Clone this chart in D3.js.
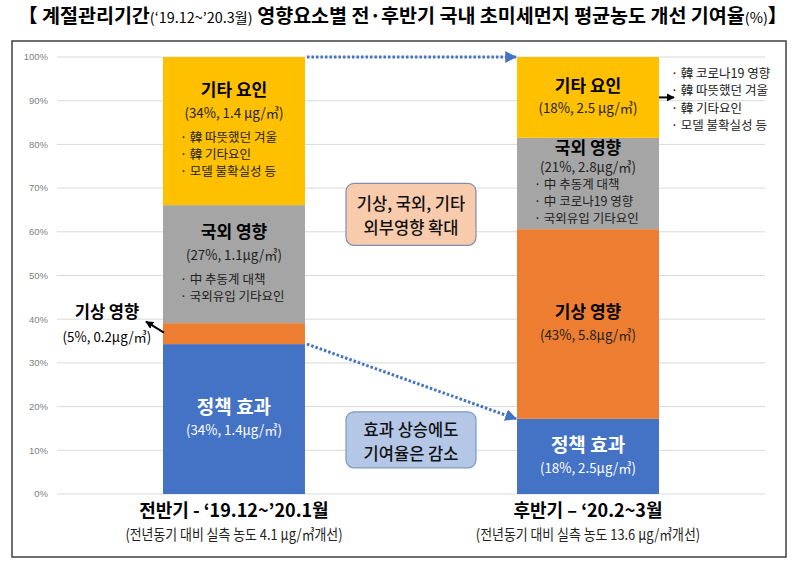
<!DOCTYPE html>
<html>
<head>
<meta charset="utf-8">
<script src="https://cdn.jsdelivr.net/npm/d3@7"></script>
<style>
  body { margin: 0; background: #fff; }
  svg { display: block; }
</style>
</head>
<body>
<div id="chart"></div>
<script>
// ---- data ----
var periods = ["전반기", "후반기"];
var factors = ["정책 효과", "기상 영향", "국외 영향", "기타 요인"];
var colors = ["#4472c4", "#ed7d31", "#a5a5a5", "#ffc000"];
var share1 = [34.3, 4.8, 27.0, 33.9];   // 전반기, % stacked
var share2 = [17.2, 43.4, 20.9, 18.5];  // 후반기
var valueText1 = ["(34%, 1.4μg/㎥)", "(5%, 0.2μg/㎥)", "(27%, 1.1μg/㎥)", "(34%, 1.4 μg/㎥)"];
var valueText2 = ["(18%, 2.5μg/㎥)", "(43%, 5.8μg/㎥)", "(21%, 2.8μg/㎥)", "(18%, 2.5 μg/㎥)"];
var notes1 = [[], [], ["中 추동계 대책", "국외유입 기타요인"], ["韓 따뜻했던 겨울", "韓 기타요인", "모델 불확실성 등"]];
var notes2 = [[], [], ["中 추동계 대책", "中 코로나19 영향", "국외유입 기타요인"], ["韓 코로나19 영향", "韓 따뜻했던 겨울", "韓 기타요인", "모델 불확실성 등"]];
var periodTitles = ["전반기 - ‘19.12~’20.1월", "후반기 – ‘20.2~3월"];
var periodNotes = ["(전년동기 대비 실측 농도 4.1 μg/㎥개선)", "(전년동기 대비 실측 농도 13.6 μg/㎥개선)"];
var yTicks = [0, 10, 20, 30, 40, 50, 60, 70, 80, 90, 100];
var callouts = [["기상, 국외, 기타", "외부영향 확대"], ["효과 상승에도", "기여율은 감소"]];
var titleParts = [
  {t: "【 계절관리기간", small: false},
  {t: "(‘19.12~’20.3월)", small: true},
  {t: " 영향요소별 전·후반기 국내 초미세먼지 평균농도 개선 기여율", small: false},
  {t: "(%)", small: true},
  {t: "】", small: false}
];

var KR = "'Noto Sans CJK KR', 'Noto Sans', sans-serif";
var NARROW = "'Liberation Sans Narrow', 'Noto Sans CJK KR', sans-serif";

var W = 800, H = 564;
var svg = d3.select("#chart").append("svg")
    .attr("width", W)
    .attr("height", H)
    .style("background", "#fff");

// squeeze a text element horizontally around its own anchor point
function squeeze(sel, k) {
  sel.each(function() {
    var t = d3.select(this), x = +t.attr("x"), y = +t.attr("y");
    t.attr("transform", "translate(" + x + "," + y + ") scale(" + k + ",1) translate(" + (-x) + "," + (-y) + ")");
  });
}

// title
var title = svg.append("text")
    .attr("x", 0).attr("y", 23)
    .style("font-family", KR)
    .style("font-weight", 700)
    .attr("fill", "#000");
titleParts.forEach(function(p) {
  title.append("tspan")
    .text(p.t)
    .style("font-size", p.small ? "14px" : "19px")
    .style("font-weight", p.small ? 400 : 700)
    .style("font-family", p.small ? NARROW : KR);
});
var tw = title.node().getComputedTextLength();
title.attr("transform", "translate(18,0) scale(" + (770 / tw) + ",1)");

// frame
svg.append("rect")
    .attr("x", 12).attr("y", 41)
    .attr("width", 774).attr("height", 516)
    .attr("fill", "none")
    .attr("stroke", "#404040")
    .attr("stroke-width", 1.5);

// scales
var y = d3.scaleLinear().domain([0, 100]).range([494, 57]);
var x = d3.scaleBand().domain(periods).range([163, 659]).paddingInner(0.599).paddingOuter(0);
var bw = x.bandwidth();

// grid + y labels
svg.append("g").selectAll("line")
  .data(yTicks).enter().append("line")
    .attr("x1", 57).attr("x2", 765)
    .attr("y1", function(d) { return y(d); })
    .attr("y2", function(d) { return y(d); })
    .attr("stroke", "#d9d9d9")
    .attr("stroke-width", 1);
svg.append("g").selectAll("text")
  .data(yTicks).enter().append("text")
    .attr("x", 48)
    .attr("y", function(d) { return y(d); })
    .attr("dy", "0.35em")
    .attr("text-anchor", "end")
    .style("font-family", "'Liberation Sans', sans-serif")
    .style("font-size", "9.5px")
    .attr("fill", "#808080")
    .text(function(d) { return d + "%"; });

// stacked bars
var rows = periods.map(function(p, i) {
  var r = {period: p};
  var s = i === 0 ? share1 : share2;
  factors.forEach(function(f, j) { r[f] = s[j]; });
  return r;
});
var series = d3.stack().keys(factors)(rows);

svg.append("g").selectAll("g")
  .data(series).enter().append("g")
    .attr("fill", function(d, j) { return colors[j]; })
  .selectAll("rect")
  .data(function(d) { return d; }).enter().append("rect")
    .attr("x", function(d) { return x(d.data.period); })
    .attr("y", function(d) { return y(d[1]); })
    .attr("width", bw)
    .attr("height", function(d) { return y(d[0]) - y(d[1]); });

// arrow markers
var defs = svg.append("defs");
defs.append("marker").attr("id", "blueHead")
    .attr("viewBox", "0 0 10 10").attr("refX", 9).attr("refY", 5)
    .attr("markerWidth", 4).attr("markerHeight", 4).attr("orient", "auto")
    .attr("markerUnits", "strokeWidth")
  .append("path").attr("d", "M0,0 L10,5 L0,10 z").attr("fill", "#4472c4");
defs.append("marker").attr("id", "blackHead")
    .attr("viewBox", "0 0 10 10").attr("refX", 9).attr("refY", 5)
    .attr("markerWidth", 4).attr("markerHeight", 4).attr("orient", "auto")
    .attr("markerUnits", "strokeWidth")
  .append("path").attr("d", "M0,0 L10,5 L0,10 z").attr("fill", "#000");

// segment labels
var labels = svg.append("g");
series.forEach(function(ser, j) {
  ser.forEach(function(d, i) {
    var bx = x(d.data.period), cx = bx + bw / 2;
    var top = y(d[1]), bot = y(d[0]), h = bot - top, cy = (top + bot) / 2;
    var valueText = (i === 0 ? valueText1 : valueText2)[j];
    var notes = (i === 0 ? notes1 : notes2)[j];
    var onBlue = j === 0;
    var headSize = onBlue ? 19 : 17;

    if (h < 30) {
      // too small: label outside left with an arrow
      var lx = bx - 56;
      labels.append("text")
        .attr("x", lx).attr("y", cy - 21).attr("dy", "0.35em")
        .attr("text-anchor", "middle")
        .style("font-family", KR).style("font-weight", 700).style("font-size", "16.5px")
        .attr("fill", "#000").text(factors[j]);
      labels.append("text")
        .attr("x", lx).attr("y", cy + 3).attr("dy", "0.35em")
        .attr("text-anchor", "middle")
        .style("font-family", NARROW).style("font-size", "14px")
        .attr("fill", "#000").text(valueText)
        .call(squeeze, 0.95);
      labels.append("line")
        .attr("x1", bx + 1).attr("y1", cy - 1)
        .attr("x2", bx - 17).attr("y2", cy - 12)
        .attr("stroke", "#000").attr("stroke-width", 2)
        .attr("marker-end", "url(#blackHead)");
      return;
    }

    var g1 = 23, g2 = 25, step = 17, n = notes.length, inside = true;
    var span = g1 + (n ? g2 + step * (n - 1) : 0);
    if (span + 30 > h) {
      g1 = 19; g2 = 18;
      span = g1 + (n ? g2 + step * (n - 1) : 0);
      if (span + 16 > h) {
        inside = false;
        g1 = 22;
        span = g1;
      }
    }
    var y0 = cy - span / 2;
    labels.append("text")
      .attr("x", cx).attr("y", y0).attr("dy", "0.35em")
      .attr("text-anchor", "middle")
      .style("font-family", KR).style("font-weight", 700).style("font-size", headSize + "px")
      .attr("fill", onBlue ? "#fff" : "#000").text(factors[j]);
    labels.append("text")
      .attr("x", cx).attr("y", y0 + g1).attr("dy", "0.35em")
      .attr("text-anchor", "middle")
      .style("font-family", NARROW).style("font-size", "14px")
      .attr("fill", onBlue ? "#fff" : "#222").text(valueText)
      .call(squeeze, 0.95);

    if (inside) {
      notes.forEach(function(t, k) {
        labels.append("text")
          .attr("x", bx + 17).attr("y", y0 + g1 + g2 + step * k).attr("dy", "0.35em")
          .style("font-family", KR).style("font-size", "12.5px")
          .attr("fill", "#222").text("· " + t);
      });
    } else {
      labels.append("line")
        .attr("x1", bx + bw).attr("y1", cy)
        .attr("x2", bx + bw + 15).attr("y2", cy)
        .attr("stroke", "#000").attr("stroke-width", 2)
        .attr("marker-end", "url(#blackHead)");
      notes.forEach(function(t, k) {
        labels.append("text")
          .attr("x", bx + bw + 12).attr("y", cy - 24 + 17.5 * k).attr("dy", "0.35em")
          .style("font-family", KR).style("font-size", "12.5px")
          .attr("fill", "#222").text("· " + t);
      });
    }
  });
});

// dotted blue arrows between bars
var x0r = x(periods[0]) + bw, x1l = x(periods[1]);
[[y(100), y(100)], [y(share1[0]), y(share2[0])]].forEach(function(p) {
  svg.append("line")
    .attr("x1", x0r + 2).attr("y1", p[0])
    .attr("x2", x1l - 1).attr("y2", p[1])
    .attr("stroke", "#4472c4")
    .attr("stroke-width", 3)
    .attr("stroke-dasharray", "2.5,2")
    .attr("marker-end", "url(#blueHead)");
});

// callout boxes
var boxCx = (x0r + x1l) / 2;
var boxes = [
  {lines: callouts[0], v: 64, h: 62, fill: "#f8cbad", stroke: "#7f8fb0"},
  {lines: callouts[1], v: 12.4, h: 56, fill: "#b4c7e7", stroke: "#7f97c0"}
];
boxes.forEach(function(b) {
  var cy = y(b.v);
  svg.append("rect")
    .attr("x", boxCx - 65).attr("y", cy - b.h / 2)
    .attr("width", 130).attr("height", b.h)
    .attr("rx", 8)
    .attr("fill", b.fill)
    .attr("stroke", b.stroke)
    .attr("stroke-width", 1.2);
  b.lines.forEach(function(t, k) {
    svg.append("text")
      .attr("x", boxCx).attr("y", cy - 10 + 24 * k).attr("dy", "0.35em")
      .attr("text-anchor", "middle")
      .style("font-family", KR).style("font-size", "16.5px").style("font-weight", 500)
      .attr("fill", "#111").text(t);
  });
});

// period labels under the bars
periods.forEach(function(p, i) {
  var cx = x(p) + bw / 2;
  svg.append("text")
    .attr("x", cx).attr("y", 511).attr("dy", "0.35em")
    .attr("text-anchor", "middle")
    .style("font-family", KR).style("font-weight", 700).style("font-size", "18px")
    .attr("fill", "#000").text(periodTitles[i]);
  svg.append("text")
    .attr("x", cx).attr("y", 535).attr("dy", "0.35em")
    .attr("text-anchor", "middle")
    .style("font-family", KR).style("font-size", "15px")
    .attr("fill", "#222").text(periodNotes[i])
    .call(squeeze, 0.86);
});
</script>
</body>
</html>
